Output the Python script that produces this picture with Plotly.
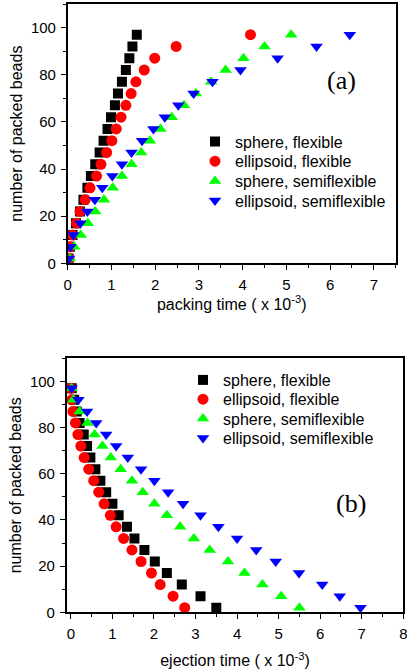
import plotly.graph_objects as go

# ---------- data: panel (a) packing ----------
beads_a = [2, 7, 12, 17, 22, 27, 32, 37, 42, 47, 52, 57, 62, 67, 72, 77, 82, 87, 92, 97]
pack_sphere_flex = [0.02, 0.05, 0.11, 0.19, 0.28, 0.36, 0.45, 0.53, 0.63, 0.73,
                    0.82, 0.91, 0.99, 1.08, 1.15, 1.24, 1.33, 1.41, 1.48, 1.58]
pack_ellip_flex = [0.03, 0.05, 0.11, 0.20, 0.28, 0.40, 0.51, 0.66, 0.76, 0.89,
                   1.01, 1.11, 1.22, 1.33, 1.45, 1.56, 1.75, 1.99, 2.48, 4.18]
pack_sphere_semi = [0.05, 0.15, 0.30, 0.46, 0.63, 0.83, 1.03, 1.24, 1.46, 1.68,
                    1.88, 2.12, 2.38, 2.66, 2.93, 3.28, 3.61, 4.02, 4.50, 5.11]
pack_ellip_semi = [0.03, 0.06, 0.13, 0.29, 0.45, 0.62, 0.79, 1.02, 1.24, 1.46,
                   1.70, 1.96, 2.22, 2.53, 2.88, 3.31, 3.95, 4.80, 5.69, 6.45]

# ---------- data: panel (b) ejection ----------
beads_b = [97, 92, 87, 82, 77, 72, 67, 62, 57, 52, 47, 42, 37, 32, 27, 22, 17, 12, 7, 2]
ej_sphere_flex = [0.02, 0.08, 0.14, 0.21, 0.31, 0.39, 0.47, 0.59, 0.71, 0.85,
                  1.00, 1.15, 1.35, 1.53, 1.77, 2.02, 2.31, 2.67, 3.12, 3.50]
ej_ellip_flex = [0.00, 0.02, 0.05, 0.11, 0.17, 0.24, 0.32, 0.43, 0.55, 0.67,
                 0.80, 0.95, 1.09, 1.27, 1.47, 1.69, 1.94, 2.15, 2.46, 2.74]
ej_sphere_semi = [0.01, 0.06, 0.21, 0.40, 0.57, 0.76, 0.96, 1.20, 1.47, 1.73,
                  2.01, 2.31, 2.63, 2.96, 3.34, 3.78, 4.18, 4.61, 5.06, 5.50]
ej_ellip_semi = [0.02, 0.18, 0.39, 0.61, 0.85, 1.09, 1.37, 1.69, 2.01, 2.34,
                 2.70, 3.12, 3.55, 4.00, 4.46, 4.93, 5.49, 6.05, 6.47, 6.97]

names = ["sphere, flexible", "ellipsoid, flexible", "sphere, semiflexible", "ellipsoid, semiflexible"]
colors = ["#000000", "#ff0000", "#00ff00", "#0000ff"]
symbols = ["square", "circle", "triangle-up", "triangle-down"]
sizes = [10, 11, 11, 11]

FONT = "Liberation Sans, Arial, sans-serif"
SERIF = "Liberation Serif, Times New Roman, serif"

W, H = 407, 670


def px_x(p):
    return p / W


def px_y(p):
    return (H - p) / H


# legend row centres (pixels) for each panel
leg_a_x, leg_a_rows = 195, [141.7, 161.3, 181.0, 200.7]
leg_b_x, leg_b_rows = 183, [380.0, 399.3, 418.7, 438.0]

fig = go.Figure()
legend_layout = {}

for i, (xs, nm, c, s, sz) in enumerate(zip(
        [pack_sphere_flex, pack_ellip_flex, pack_sphere_semi, pack_ellip_semi],
        names, colors, symbols, sizes)):
    lname = f"legend{i + 2}"
    fig.add_trace(go.Scatter(x=xs, y=beads_a, mode="markers", name=nm, xaxis="x", yaxis="y",
                             marker=dict(symbol=s, size=sz, color=c, line=dict(width=0)),
                             legend=lname))
    legend_layout[lname] = dict(x=px_x(leg_a_x), y=px_y(leg_a_rows[i]), xanchor="left", yanchor="middle",
                                font=dict(family=FONT, size=16, color="#000000"),
                                bgcolor="rgba(0,0,0,0)", borderwidth=0, itemsizing="trace")

for i, (xs, nm, c, s, sz) in enumerate(zip(
        [ej_sphere_flex, ej_ellip_flex, ej_sphere_semi, ej_ellip_semi],
        names, colors, symbols, sizes)):
    lname = f"legend{i + 6}"
    fig.add_trace(go.Scatter(x=xs, y=beads_b, mode="markers", name=nm, xaxis="x2", yaxis="y2",
                             marker=dict(symbol=s, size=sz, color=c, line=dict(width=0)),
                             legend=lname))
    legend_layout[lname] = dict(x=px_x(leg_b_x), y=px_y(leg_b_rows[i]), xanchor="left", yanchor="middle",
                                font=dict(family=FONT, size=16, color="#000000"),
                                bgcolor="rgba(0,0,0,0)", borderwidth=0, itemsizing="trace")

dom_xa = [px_x(67.7), px_x(395.7)]
dom_ya = [px_y(263.3), px_y(4)]
dom_xb = [px_x(66.7), px_x(403.3)]
dom_yb = [px_y(612.3), px_y(358.3)]

tickfont = dict(family=FONT, size=15, color="#000000")
titlefont = dict(family=FONT, size=16, color="#000000")


def main_axis(dom, rng, dtick, minor_dtick, anchor, title, standoff):
    return dict(domain=dom, range=rng, anchor=anchor, showgrid=False, zeroline=False,
                automargin=False, ticklabeloverflow="allow",
                showline=True, linecolor="#000000", linewidth=1.5, mirror=True,
                ticks="outside", ticklen=5, tickwidth=1.2, tickcolor="#000000",
                tick0=0, dtick=dtick, tickfont=tickfont, ticklabelstandoff=2,
                minor=dict(ticks="outside", ticklen=3, tickwidth=1.2, tickcolor="#000000",
                           dtick=minor_dtick, tick0=0, showgrid=False),
                title=dict(text=title, font=titlefont, standoff=standoff))


def mirror_axis(dom, rng, dtick, minor_dtick, overlay, side):
    return dict(domain=dom, range=rng, overlaying=overlay, side=side, matches=overlay,
                automargin=False,
                showgrid=False, zeroline=False, showline=False, showticklabels=False,
                ticks="inside", ticklen=5, tickwidth=1.2, tickcolor="#000000",
                tick0=0, dtick=dtick,
                minor=dict(ticks="inside", ticklen=3, tickwidth=1.2, tickcolor="#000000",
                           dtick=minor_dtick, tick0=0, showgrid=False))


xt_a = "packing time ( x 10<sup>-3</sup>)"
xt_b = "ejection time ( x 10<sup>-3</sup>)"
yt = "number of packed beads"

fig.update_layout(
    width=W, height=H,
    margin=dict(l=0, r=0, t=0, b=0, autoexpand=False),
    paper_bgcolor="#ffffff", plot_bgcolor="#ffffff",
    font=dict(family=FONT, color="#000000"),
    xaxis=main_axis(dom_xa, [0, 7.5], 1, 0.5, "y", xt_a, 6),
    yaxis=main_axis(dom_ya, [0, 110], 20, 10, "x", yt, 4),
    xaxis2=main_axis(dom_xb, [-0.1, 8], 1, 0.5, "y2", xt_b, 14),
    yaxis2=main_axis(dom_yb, [0, 110], 20, 10, "x2", yt, 4),
    xaxis3=mirror_axis(dom_xa, [0, 7.5], 1, 0.5, "x", "top"),
    yaxis3=mirror_axis(dom_ya, [0, 110], 20, 10, "y", "right"),
    xaxis4=mirror_axis(dom_xb, [-0.1, 8], 1, 0.5, "x2", "top"),
    yaxis4=mirror_axis(dom_yb, [0, 110], 20, 10, "y2", "right"),
    annotations=[
        dict(text="(a)", x=px_x(341), y=px_y(80), xref="paper", yref="paper",
             xanchor="center", yanchor="middle",
             showarrow=False, font=dict(family=SERIF, size=26, color="#000000")),
        dict(text="(b)", x=px_x(351), y=px_y(503), xref="paper", yref="paper",
             xanchor="center", yanchor="middle",
             showarrow=False, font=dict(family=SERIF, size=26, color="#000000")),
    ],
    **legend_layout,
)

# remove the browser's default 8px body margin so the figure sits at the page origin
fig.write_html("out.html", config={"displayModeBar": False},
               post_script="document.body.style.margin='0';")
